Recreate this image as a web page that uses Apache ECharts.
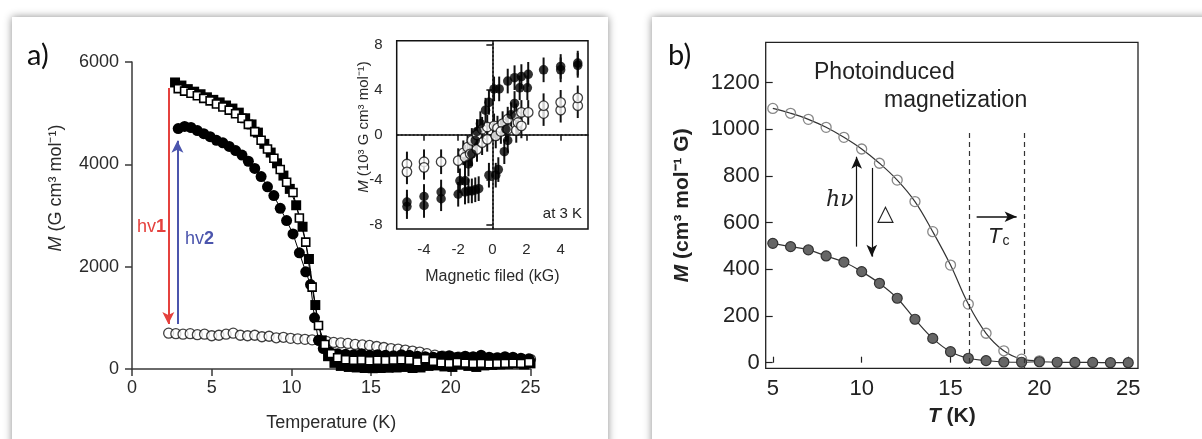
<!DOCTYPE html>
<html><head><meta charset="utf-8">
<script src="https://cdn.jsdelivr.net/npm/echarts@6/dist/echarts.min.js"></script>
<style>
html,body{margin:0;padding:0;background:#fff;overflow:hidden}
.card{position:absolute;background:#fff;box-shadow:0 0 8px rgba(0,0,0,0.45)}
#c{position:absolute;left:0;top:0;width:1202px;height:439px}
</style>
</head><body>
<div class="card" style="left:12px;top:17px;width:596px;height:450px"></div>
<div class="card" style="left:652px;top:17px;width:570px;height:450px"></div>
<div id="c"></div>
<script>
// ---- Panel a: main plot, M (G cm3 mol-1) vs Temperature (K)
const aFsT = [2.7,3.1,3.5,3.9,4.3,4.7,5.1,5.5,5.9,6.3,6.7,7.1,7.5,7.9,8.3,8.7,9.1,9.5,9.9,10.3,10.7,11.1,11.5,11.9,12.3,12.7,13.1,13.6,14.1,14.6,15.1,15.6,16.1,16.6,17.1,17.6,18.1,18.6,19.1,19.6,20.1,20.6,21.1,21.6,22.1,22.6,23.1,23.6,24.1,24.6,25.0];
const aFsM = [5600,5540,5470,5420,5370,5310,5260,5210,5150,5090,5010,4900,4780,4620,4400,4230,4020,3780,3520,3200,2780,2150,1250,560,250,120,60,40,30,20,15,20,25,30,40,20,30,60,70,50,40,90,60,40,70,80,90,100,110,90,110];
const aOsT = [2.9,3.3,3.7,4.1,4.5,4.9,5.3,5.7,6.1,6.5,6.9,7.3,7.7,8.1,8.5,8.9,9.3,9.7,10.1,10.5,10.9,11.3,11.7,12.1,12.5,12.9,13.4,13.9,14.4,14.9,15.4,15.9,16.4,16.9,17.4,17.9,18.4,18.9,19.4,19.9,20.4,20.9,21.4,21.9,22.4,22.9,23.4,23.9,24.4,24.9];
const aOsM = [5480,5430,5390,5340,5290,5240,5180,5120,5060,4990,4900,4780,4640,4470,4300,4120,3900,3650,3450,2950,2480,1600,850,480,300,220,180,170,175,160,170,165,175,180,170,140,200,150,120,110,130,115,105,110,100,105,110,115,110,130];
const aFcT = [2.9,3.3,3.7,4.1,4.5,4.9,5.3,5.7,6.1,6.5,6.9,7.3,7.7,8.1,8.5,8.9,9.3,9.7,10.1,10.5,10.9,11.2,11.45,11.7,12.0,12.4,12.9,13.4,13.9,14.4,14.9,15.4,15.9,16.4,16.9,17.4,17.9,18.4,18.9,19.4,19.9,20.4,20.9,21.4,21.9,22.4,22.9,23.4,23.9,24.4,24.9];
const aFcM = [4700,4740,4720,4660,4600,4540,4470,4420,4350,4270,4180,4060,3920,3760,3560,3390,3140,2900,2640,2270,1900,1650,1000,560,400,330,300,290,280,300,270,280,270,260,280,270,250,240,230,250,260,230,250,240,270,230,220,240,230,210,200];
const aOcT = [2.3,2.75,3.2,3.65,4.1,4.55,5.0,5.45,5.9,6.35,6.8,7.25,7.7,8.15,8.6,9.05,9.5,9.95,10.4,10.85,11.3,11.75,12.2,12.65,13.1,13.55,14.0,14.45,14.9,15.35,15.8,16.25,16.7,17.15,17.6,18.05,18.5,19.0,19.5,20.0,20.5,21.0,21.5,22.0,22.5,23.0,23.5,24.0,24.5,25.0];
const aOcM = [700,690,680,690,670,680,650,660,680,700,660,650,660,630,640,610,620,600,590,580,570,560,540,520,510,500,480,470,460,440,420,400,390,370,350,330,300,270,250,240,230,230,220,220,210,210,200,200,190,190];
const aXTicks = [0,5,10,15,20,25];
const aYTicks = [0,2000,4000,6000];

// ---- Panel a inset: M (10^3 G cm3 mol-1) vs field (kG) at 3 K, pairs [H, M]
const inFilled = [[-5,-6.0],[-5,-6.4],[-4,-5.5],[-4,-6.3],[-3,-5.1],[-3,-5.7],[-2,-5.3],
  [-1.6,-5.1],[-1.4,-5.0],[-1.2,-5.0],[-1.0,-4.9],[-0.8,-4.8],[-0.2,-3.6],[0.2,-3.6],[0.35,-3.1],[0.7,-1.5],[0.9,-0.5],[0.8,0.5],[1.1,1.8],[1.3,2.8],[1.6,4.2],[2.05,4.2],
  [2.1,5.4],[1.7,5.2],[1.3,5.1],[0.9,4.8],[0.4,4.1],[0.1,4.1],[-0.2,2.9],[-0.4,2.2],[-0.7,1.0],[-0.9,0.3],[-1.0,-0.5],[-1.2,-1.7],[-1.4,-2.6],[-1.6,-4.1],[-1.9,-4.1],
  [3,5.8],[4,5.8],[4,6.1],[5,6.2],[5,6.4]];
const inOpen = [[-5,-2.6],[-5,-3.3],[-4,-2.4],[-4,-2.9],[-3,-2.4],[-2,-2.3],
  [-1.7,-1.6],[-1.45,-1.1],[-1.2,-0.5],[-0.9,0.0],[-0.6,0.5],[-0.3,0.7],[0.1,0.8],[0.3,0.6],[0.6,1.0],[0.9,1.4],[1.4,1.7],[1.7,2.0],[2.1,2.0],
  [-1.6,-2.0],[-1.3,-1.7],[-0.9,-1.3],[-0.6,-0.7],[-0.3,-0.4],[0.2,-0.1],[0.5,0.3],[0.9,0.5],[1.4,0.4],[1.5,1.1],[1.7,0.8],
  [3,1.9],[3,2.6],[4,2.2],[4,2.9],[5,2.6],[5,3.3]];
const inErr = 1.1;
const inXTicks = [-4,-2,0,2,4];
const inYTicks = [-8,-4,0,4,8];

// ---- Panel b: M (cm3 mol-1 G) vs T (K)
const bT = [5,6,7,8,9,10,11,12,13,14,15,16,17,18,19,20,21,22,23,24,25];
const bOpenM = [1089,1068,1042,1008,965,915,854,782,690,561,418,251,126,51,15,8];
const bFilledM = [511,497,483,457,431,390,340,276,186,104,47,19,9,3,2,4,2,1,1,0,0];
const bXTicks = [5,10,15,20,25];
const bYTicks = [0,200,400,600,800,1000,1200];

const zip = (xs, ys) => ys.map((y, i) => [xs[i], y]);
const FONT = '"Liberation Sans", Arial, sans-serif';
const plain = v => String(v);

const chart = echarts.init(document.getElementById('c'), null, {renderer: 'canvas'});

const axA = {
  axisLine: {show: true, lineStyle: {color: '#3a3a3a', width: 1.5}},
  axisTick: {show: true, inside: false, length: 7, lineStyle: {color: '#3a3a3a', width: 1.5}},
  splitLine: {show: false},
  axisLabel: {fontSize: 18, color: '#2a2a2a', fontFamily: FONT, formatter: plain}
};

const option = {
  animation: false,
  backgroundColor: 'transparent',
  grid: [
    {left: 132, top: 62, width: 398.5, height: 307, containLabel: false},
    {left: 396.7, top: 40.7, width: 191.3, height: 188.3, show: true, backgroundColor: '#fff', borderColor: '#111', borderWidth: 1.5, z: 5},
    {left: 765.7, top: 42.3, width: 372.3, height: 326, show: true, borderColor: '#222', borderWidth: 1.3}
  ],
  xAxis: [
    Object.assign({}, axA, {gridIndex: 0, type: 'value', min: 0, max: 25, interval: 5,
      axisLabel: Object.assign({}, axA.axisLabel, {margin: 10}),
      name: 'Temperature (K)', nameLocation: 'middle', nameGap: 45,
      nameTextStyle: {fontSize: 18, color: '#2a2a2a', fontFamily: FONT}}),
    {gridIndex: 1, type: 'value', min: -5.6, max: 5.6, z: 6,
      axisLine: {show: true, lineStyle: {color: '#111', width: 1.5}},
      axisTick: {show: true, inside: false, length: 6, customValues: inXTicks, lineStyle: {color: '#111', width: 1.5}},
      axisLabel: {fontSize: 15, color: '#2a2a2a', fontFamily: FONT, margin: 13, customValues: inXTicks, formatter: plain},
      splitLine: {show: false},
      name: 'Magnetic filed (kG)', nameLocation: 'middle', nameGap: 40,
      nameTextStyle: {fontSize: 16, color: '#2a2a2a', fontFamily: FONT}},
    {gridIndex: 2, type: 'value', min: 4.6, max: 25.55,
      axisLine: {show: false},
      axisTick: {show: true, inside: true, length: 6, customValues: bXTicks, lineStyle: {color: '#222', width: 1.2}},
      axisLabel: {fontSize: 22, color: '#222', fontFamily: FONT, margin: 10, customValues: bXTicks, formatter: plain},
      splitLine: {show: false},
      name: '{bi|T} (K)', nameLocation: 'middle', nameGap: 37,
      nameTextStyle: {fontSize: 21, fontWeight: 'bold', color: '#222', fontFamily: FONT,
        rich: {bi: {fontSize: 21, fontWeight: 'bold', fontStyle: 'italic', color: '#222', fontFamily: FONT}}}}
  ],
  yAxis: [
    Object.assign({}, axA, {gridIndex: 0, type: 'value', min: 0, max: 6000, interval: 2000,
      axisLabel: Object.assign({}, axA.axisLabel, {margin: 13})}),
    {gridIndex: 1, type: 'value', min: -8.4, max: 8.4, z: 6,
      axisLine: {show: true, lineStyle: {color: '#111', width: 1.5}},
      axisTick: {show: true, inside: false, length: 6, customValues: inYTicks, lineStyle: {color: '#111', width: 1.5}},
      axisLabel: {fontSize: 15, color: '#2a2a2a', fontFamily: FONT, margin: 14, customValues: inYTicks, formatter: plain},
      splitLine: {show: false}},
    {gridIndex: 2, type: 'value', min: -24, max: 1372,
      axisLine: {show: false},
      axisTick: {show: true, inside: true, length: 7, customValues: bYTicks, lineStyle: {color: '#222', width: 1.2}},
      axisLabel: {fontSize: 22, color: '#222', fontFamily: FONT, margin: 6, customValues: bYTicks, formatter: plain},
      splitLine: {show: false},
      name: '{bi|M} (cm³ mol⁻¹ G)', nameLocation: 'middle', nameGap: 73,
      nameTextStyle: {fontSize: 21, fontWeight: 'bold', color: '#222', fontFamily: FONT,
        rich: {bi: {fontSize: 21, fontWeight: 'bold', fontStyle: 'italic', color: '#222', fontFamily: FONT}}}}
  ],
  series: [
    // panel a main
    {type: 'scatter', xAxisIndex: 0, yAxisIndex: 0, data: zip(aOcT, aOcM), symbol: 'circle', symbolSize: 10,
      itemStyle: {color: '#fff', borderColor: '#111', borderWidth: 1.3}, silent: true, z: 2,
      markLine: {silent: true, symbol: ['none', 'arrow'], symbolSize: [9, 12], label: {show: false},
        lineStyle: {type: 'solid', width: 2},
        data: [
          [{coord: [2.28, 5490], lineStyle: {color: '#e5413d', width: 2, type: 'solid'}}, {coord: [2.28, 880]}],
          [{coord: [2.85, 880], lineStyle: {color: '#4b55ad', width: 2, type: 'solid'}}, {coord: [2.85, 4460]}]
        ]}},
    {type: 'line', xAxisIndex: 0, yAxisIndex: 0, data: zip(aFcT, aFcM), symbol: 'circle', symbolSize: 11, showSymbol: true,
      itemStyle: {color: '#000'}, lineStyle: {color: '#000', width: 1}, silent: true, z: 3},
    {type: 'line', xAxisIndex: 0, yAxisIndex: 0, data: zip(aFsT, aFsM), symbol: 'rect', symbolSize: 10, showSymbol: true,
      itemStyle: {color: '#000'}, lineStyle: {color: '#000', width: 1}, silent: true, z: 4},
    {type: 'line', xAxisIndex: 0, yAxisIndex: 0, data: zip(aOsT, aOsM), symbol: 'rect', symbolSize: 8, showSymbol: true,
      itemStyle: {color: '#fff', borderColor: '#000', borderWidth: 1.6}, lineStyle: {color: '#000', width: 1}, silent: true, z: 5},
    // inset error bars
    {type: 'custom', xAxisIndex: 1, yAxisIndex: 1, z: 7, silent: true,
      data: inFilled.concat(inOpen).map(p => [p[0], p[1] - inErr, p[1] + inErr]),
      renderItem: (params, api) => {
        const lo = api.coord([api.value(0), api.value(1)]);
        const hi = api.coord([api.value(0), api.value(2)]);
        return {type: 'line', shape: {x1: lo[0], y1: lo[1], x2: hi[0], y2: hi[1]}, style: {stroke: '#111', lineWidth: 2}};
      }},
    {type: 'scatter', xAxisIndex: 1, yAxisIndex: 1, data: inOpen, symbol: 'circle', symbolSize: 9.5, z: 8, silent: true,
      itemStyle: {color: '#fff', borderColor: '#111', borderWidth: 1.3},
      markLine: {silent: true, symbol: 'none', label: {show: false},
        lineStyle: {color: '#333', type: [2, 2], width: 1.5},
        data: [{xAxis: 0}, {yAxis: 0}]}},
    {type: 'scatter', xAxisIndex: 1, yAxisIndex: 1, data: inFilled, symbol: 'circle', symbolSize: 9.5, z: 9, silent: true,
      itemStyle: {color: '#000'}},
    // panel b
    {type: 'line', xAxisIndex: 2, yAxisIndex: 2, data: zip(bT, bOpenM), smooth: 0.4, symbol: 'circle', symbolSize: 10, showSymbol: true,
      itemStyle: {color: 'rgba(255,255,255,0)', borderColor: '#888', borderWidth: 1.3},
      lineStyle: {color: '#333', width: 1.2}, silent: true, z: 3,
      markLine: {silent: true, label: {show: false}, symbolSize: [8, 12],
        data: [
          [{coord: [16.06, 984], symbol: 'none', lineStyle: {color: '#333', type: [5, 4], width: 1.2}}, {coord: [16.06, -24], symbol: 'none'}],
          [{coord: [19.13, 984], symbol: 'none', lineStyle: {color: '#333', type: [5, 4], width: 1.2}}, {coord: [19.13, -24], symbol: 'none'}],
          [{coord: [9.72, 497], symbol: 'none', lineStyle: {color: '#111', type: 'solid', width: 1.2}}, {coord: [9.72, 882], symbol: 'arrow'}],
          [{coord: [10.57, 834], symbol: 'none', lineStyle: {color: '#111', type: 'solid', width: 1.2}}, {coord: [10.57, 454], symbol: 'arrow'}],
          [{coord: [16.47, 625], symbol: 'none', lineStyle: {color: '#111', type: 'solid', width: 1.5}}, {coord: [18.72, 625], symbol: 'arrow'}]
        ]}},
    {type: 'line', xAxisIndex: 2, yAxisIndex: 2, data: zip(bT, bFilledM), smooth: 0.4, symbol: 'circle', symbolSize: 10, showSymbol: true,
      itemStyle: {color: '#666', borderColor: '#333', borderWidth: 1.2},
      lineStyle: {color: '#333', width: 1.2}, silent: true, z: 4}
  ],
  graphic: [
    {type: 'text', left: 27, top: 41, style: {text: 'a)', fontSize: 29, fontFamily: 'Lato, "Open Sans", sans-serif', fill: '#111'}},
    {type: 'text', left: 668, top: 41, style: {text: 'b)', fontSize: 29, fontFamily: 'Lato, "Open Sans", sans-serif', fill: '#111'}},
    // y-axis titles of panel a (main and inset)
    {type: 'text', x: 56, y: 188, rotation: Math.PI / 2, style: {text: '{i|M} (G cm³ mol⁻¹)', align: 'center', verticalAlign: 'middle',
      fontSize: 18, fill: '#2a2a2a', fontFamily: FONT,
      rich: {i: {fontSize: 18, fontStyle: 'italic', fill: '#2a2a2a', fontFamily: FONT}}}},
    {type: 'text', x: 364, y: 127, z: 10, rotation: Math.PI / 2, style: {text: '{i|M} (10³ G cm³ mol⁻¹)', align: 'center', verticalAlign: 'middle',
      fontSize: 15, fill: '#2a2a2a', fontFamily: FONT,
      rich: {i: {fontSize: 15, fontStyle: 'italic', fill: '#2a2a2a', fontFamily: FONT}}}},
    {type: 'text', left: 137, top: 216, z: 10, style: {text: '{n|hv}{b|1}', backgroundColor: '#fff', padding: [2, 0, 2, 0],
      rich: {n: {fontSize: 18, fill: '#e5413d', fontFamily: FONT}, b: {fontSize: 18, fontWeight: 'bold', fill: '#e5413d', fontFamily: FONT}}}},
    {type: 'text', left: 185, top: 230, z: 10, style: {text: '{n|hv}{b|2}',
      rich: {n: {fontSize: 18, fill: '#4b55ad', fontFamily: FONT}, b: {fontSize: 18, fontWeight: 'bold', fill: '#4b55ad', fontFamily: FONT}}}},
    {type: 'text', right: 620, top: 206, z: 10, style: {text: 'at 3 K', fontSize: 15, fill: '#222', fontFamily: FONT}},
    {type: 'text', left: 814, top: 61, style: {text: 'Photoinduced', fontSize: 23, fill: '#222', fontFamily: FONT}},
    {type: 'text', left: 884, top: 89, style: {text: 'magnetization', fontSize: 23, fill: '#222', fontFamily: FONT}},
    {type: 'text', left: 826, top: 189, style: {text: 'hν', fontSize: 22, fontStyle: 'italic', fill: '#222', fontFamily: 'DejaVu Serif, serif'}},
    {type: 'text', left: 877, top: 203, style: {text: '△', fontSize: 22, fill: '#222', fontFamily: 'DejaVu Sans, sans-serif'}},
    {type: 'text', left: 988, top: 226, style: {text: '{t|T}{c|c}',
      rich: {t: {fontSize: 22, fontStyle: 'italic', fill: '#222', fontFamily: FONT}, c: {fontSize: 14, fill: '#222', fontFamily: FONT, verticalAlign: 'bottom', padding: [8, 0, 0, 1]}}}}
  ]
};
chart.setOption(option);
</script>
</body></html>
